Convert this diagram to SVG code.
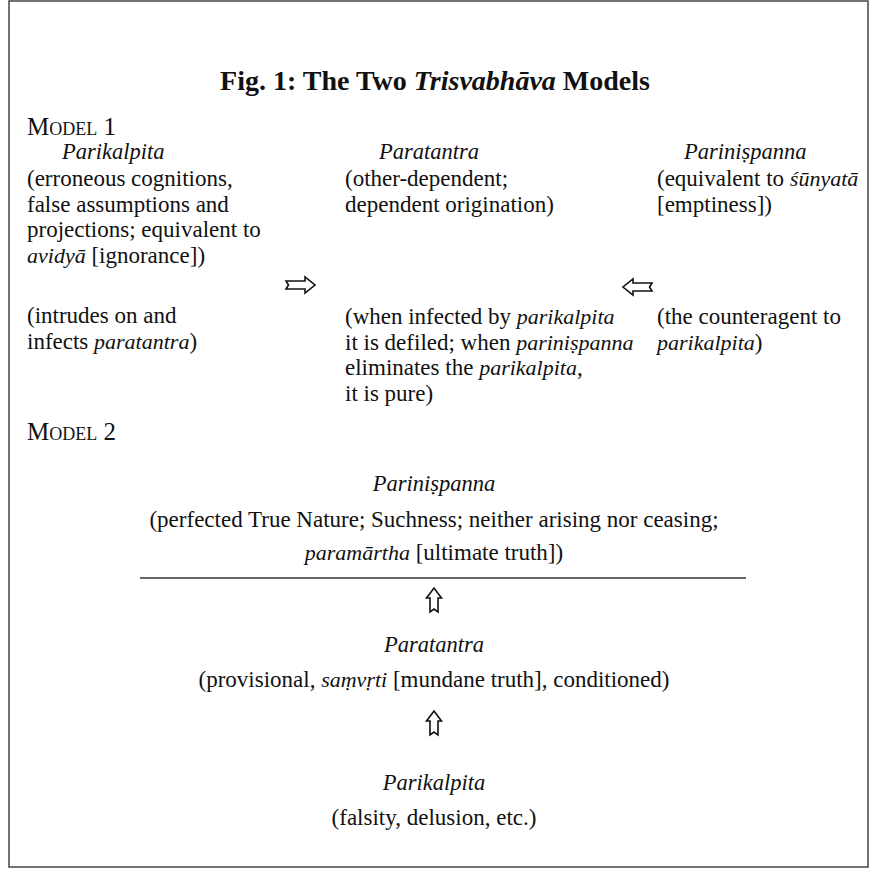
<svg xmlns="http://www.w3.org/2000/svg" width="869" height="869" viewBox="0 0 869 869">
<style>
text{font-family:"Liberation Serif","Times New Roman",serif;font-size:23px;fill:#111}
.i{font-style:italic;font-size:22px}
.h{font-style:italic;font-size:22.5px}
.c{text-anchor:middle}
.t{font-weight:bold;font-size:28px}
.t .i{font-size:28px}
.sc{font-variant:small-caps;font-size:25px}
.arr{fill:#fff;stroke:#111;stroke-width:1.6;stroke-linejoin:miter}
</style>
<rect x="9" y="1" width="859" height="866" fill="#fff" stroke="#444" stroke-width="1.5"/>
<g id="title"><text class="t c" x="435" y="90">Fig. 1: The Two <tspan class="i">Trisvabhāva</tspan> Models</text></g>
<g id="model1-label"><text class="sc" x="27" y="135">Model 1</text></g>
<g id="m1-parikalpita">
<text class="h" x="62" y="159">Parikalpita</text>
<text x="27" y="186">(erroneous cognitions,</text>
<text x="27" y="211.5">false assumptions and</text>
<text x="27" y="237">projections; equivalent to</text>
<text x="27" y="262.5"><tspan class="i">avidyā</tspan> [ignorance])</text>
<text x="27" y="323">(intrudes on and</text>
<text x="27" y="348.5">infects <tspan class="i">paratantra</tspan>)</text>
</g>
<g id="m1-paratantra">
<text class="h" x="379" y="159">Paratantra</text>
<text x="345" y="186">(other-dependent;</text>
<text x="345" y="211.5">dependent origination)</text>
<text x="345" y="324">(when infected by <tspan class="i">parikalpita</tspan></text>
<text x="345" y="349.5">it is defiled; when <tspan class="i">pariniṣpanna</tspan></text>
<text x="345" y="375">eliminates the <tspan class="i">parikalpita</tspan>,</text>
<text x="345" y="400.5">it is pure)</text>
</g>
<g id="m1-parinispanna">
<text class="h" x="684" y="159">Pariniṣpanna</text>
<text x="657" y="186">(equivalent to <tspan class="i">śūnyatā</tspan></text>
<text x="657" y="211.5">[emptiness])</text>
<text x="657" y="324">(the counteragent to</text>
<text x="657" y="349.5"><tspan class="i">parikalpita</tspan>)</text>
</g>
<g id="model2-label"><text class="sc" x="27" y="440">Model 2</text></g>
<g id="m2-parinispanna">
<text class="h c" x="434" y="491">Pariniṣpanna</text>
<text class="c" x="434" y="527">(perfected True Nature; Suchness; neither arising nor ceasing;</text>
<text class="c" x="434" y="560"><tspan class="i">paramārtha</tspan> [ultimate truth])</text>
</g>
<g id="m2-paratantra">
<text class="h c" x="434" y="652">Paratantra</text>
<text class="c" x="434" y="687">(provisional, <tspan class="i">saṃvṛti</tspan> [mundane truth], conditioned)</text>
</g>
<g id="m2-parikalpita">
<text class="h c" x="434" y="790">Parikalpita</text>
<text class="c" x="434" y="825">(falsity, delusion, etc.)</text>
</g>
<g id="connectors">
<line x1="140" y1="578" x2="746" y2="578" stroke="#333" stroke-width="1.3"/>
<path class="arr" d="M286 281 L305 281 L305 277 L315 285 L305 293 L305 289 L286 289 L288.5 285 Z"/>
<path class="arr" d="M652 283 L633 283 L633 279 L623 287 L633 295 L633 291 L652 291 L649.5 287 Z"/>
<path class="arr" d="M430 612 L430 598 L426.5 598 L434 588 L441.5 598 L438 598 L438 612 L434 609 Z"/>
<path class="arr" d="M430 735 L430 721 L426.5 721 L434 711 L441.5 721 L438 721 L438 735 L434 732 Z"/>
</g>
</svg>
